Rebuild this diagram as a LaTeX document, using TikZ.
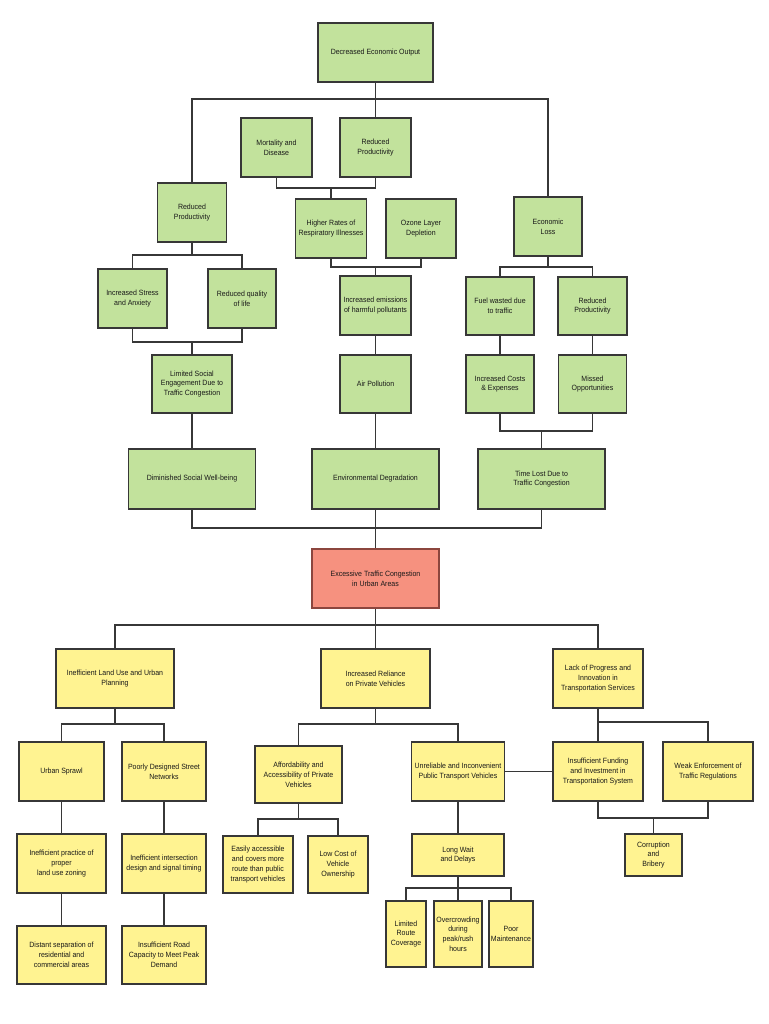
\documentclass[tikz,border=0pt]{standalone}
\usepackage{fontspec}
\setmainfont{Liberation Sans}[FakeStretch=0.92]
\definecolor{gfill}{RGB}{194,226,156}
\definecolor{yfill}{RGB}{255,243,145}
\definecolor{rfill}{RGB}{246,145,127}
\definecolor{edge}{RGB}{55,55,55}
\definecolor{redge}{RGB}{140,70,62}
\definecolor{txt}{RGB}{25,25,25}
\begin{document}
\begin{tikzpicture}[x=1pt,y=-1pt,
  base/.style={draw=edge, line width=1.7pt, align=center, inner sep=1pt,
    text=txt, font=\fontsize{7.6}{9.8}\selectfont},
  gbox/.style={base, fill=gfill},
  ybox/.style={base, fill=yfill},
  rbox/.style={base, fill=rfill, draw=redge},
  conn/.style={draw=edge, line width=1.9pt}]
\useasboundingbox (0,0) rectangle (768,1024);
\fill[white] (0,0) rectangle (768,1024);

% ---------- green (effects) ----------
\node[gbox, minimum width=115pt, minimum height=59pt] (deo) at (375.5,52.5) {Decreased Economic Output};
\node[gbox, minimum width=71pt, minimum height=59pt] (mort) at (276.5,147.5) {Mortality and\\Disease};
\node[gbox, minimum width=71pt, minimum height=59pt] (rpm) at (375.5,147.5) {Reduced\\Productivity};
\node[gbox, minimum width=69pt, minimum height=59pt] (rpl) at (192,212.5) {Reduced\\Productivity};
\node[gbox, minimum width=71pt, minimum height=59pt] (hrr) at (331,228.5) {Higher Rates of\\Respiratory Illnesses};
\node[gbox, minimum width=70pt, minimum height=59pt] (ozone) at (421,228.5) {Ozone Layer\\Depletion};
\node[gbox, minimum width=68pt, minimum height=59pt] (econ) at (548,226.5) {Economic\\Loss};
\node[gbox, minimum width=69pt, minimum height=59pt] (stress) at (132.5,298.5) {Increased Stress\\and Anxiety};
\node[gbox, minimum width=68pt, minimum height=59pt] (qual) at (242,298.5) {Reduced quality\\of life};
\node[gbox, minimum width=71pt, minimum height=59pt] (emis) at (375.5,305.5) {Increased emissions\\of harmful pollutants};
\node[gbox, minimum width=68pt, minimum height=58pt] (fuel) at (500,306) {Fuel wasted due\\to traffic};
\node[gbox, minimum width=69pt, minimum height=58pt] (rpr) at (592.5,306) {Reduced\\Productivity};
\node[gbox, minimum width=80pt, minimum height=58pt] (lse) at (192,384) {Limited Social\\Engagement Due to\\Traffic Congestion};
\node[gbox, minimum width=71pt, minimum height=58pt] (air) at (375.5,384) {Air Pollution};
\node[gbox, minimum width=68pt, minimum height=58pt] (costs) at (500,384) {Increased Costs\\\& Expenses};
\node[gbox, minimum width=68pt, minimum height=58pt] (missed) at (592.5,384) {Missed\\Opportunities};
\node[gbox, minimum width=127pt, minimum height=60pt] (dim) at (192,479) {Diminished Social Well-being};
\node[gbox, minimum width=127pt, minimum height=60pt] (env) at (375.5,479) {Environmental Degradation};
\node[gbox, minimum width=127pt, minimum height=60pt] (time) at (541.5,479) {Time Lost Due to\\Traffic Congestion};

% ---------- central problem ----------
\node[rbox, minimum width=127pt, minimum height=59pt] (excess) at (375.5,578.5) {Excessive Traffic Congestion\\in Urban Areas};

% ---------- yellow (causes) ----------
\node[ybox, minimum width=118pt, minimum height=59pt] (land) at (115,678.5) {Inefficient Land Use and Urban\\Planning};
\node[ybox, minimum width=109pt, minimum height=59pt] (reli) at (375.5,678.5) {Increased Reliance\\on Private Vehicles};
\node[ybox, minimum width=90pt, minimum height=59pt] (lack) at (598,678.5) {Lack of Progress and\\Innovation in\\Transportation Services};
\node[ybox, minimum width=85pt, minimum height=59pt] (sprawl) at (61.5,771.5) {Urban Sprawl};
\node[ybox, minimum width=84pt, minimum height=59pt] (poorly) at (164,771.5) {Poorly Designed Street\\Networks};
\node[ybox, minimum width=87pt, minimum height=57pt] (afford) at (298.5,774.5) {Affordability and\\Accessibility of Private\\Vehicles};
\node[ybox, minimum width=93pt, minimum height=59pt] (unrel) at (458,771.5) {Unreliable and Inconvenient\\Public Transport Vehicles};
\node[ybox, minimum width=90pt, minimum height=59pt] (fund) at (598,771.5) {Insufficient Funding\\and Investment in\\Transportation System};
\node[ybox, minimum width=90pt, minimum height=59pt] (weak) at (708,771.5) {Weak Enforcement of\\Traffic Regulations};
\node[ybox, minimum width=89pt, minimum height=59pt] (ineffpr) at (61.5,863.5) {Inefficient practice of\\proper\\land use zoning};
\node[ybox, minimum width=84pt, minimum height=59pt] (ineffint) at (164,863.5) {Inefficient intersection\\design and signal timing};
\node[ybox, minimum width=70pt, minimum height=57pt] (easy) at (258,864.5) {Easily accessible\\and covers more\\route than public\\transport vehicles};
\node[ybox, minimum width=60pt, minimum height=57pt] (lowcost) at (338,864.5) {Low Cost of\\Vehicle\\Ownership};
\node[ybox, minimum width=92pt, minimum height=42pt] (longwait) at (458,855) {Long Wait\\and Delays};
\node[ybox, minimum width=57pt, minimum height=42pt] (corr) at (653.5,855) {Corruption\\and\\Bribery};
\node[ybox, minimum width=40pt, minimum height=66pt] (limroute) at (406,934) {Limited\\Route\\Coverage};
\node[ybox, minimum width=48pt, minimum height=66pt] (overcr) at (458,934) {Overcrowding\\during\\peak/rush\\hours};
\node[ybox, minimum width=44pt, minimum height=66pt] (poorm) at (511,934) {Poor\\Maintenance};
\node[ybox, minimum width=89pt, minimum height=58pt] (distant) at (61.5,955) {Distant separation of\\residential and\\commercial areas};
\node[ybox, minimum width=84pt, minimum height=58pt] (insroad) at (164,955) {Insufficient Road\\Capacity to Meet Peak\\Demand};

% ---------- junctions ----------
\coordinate (j1) at (375.5,99);
\coordinate (j2) at (331,188);
\coordinate (j3) at (375.5,267);
\coordinate (j4) at (192,255);
\coordinate (j5) at (192,342);
\coordinate (j6) at (548,267);
\coordinate (j7) at (541.5,431);
\coordinate (j8) at (375.5,528);
\coordinate (j9) at (375.5,625);
\coordinate (j10) at (115,724);
\coordinate (j11) at (375.5,724);
\coordinate (j12) at (298.5,819);
\coordinate (j13) at (458,888);
\coordinate (j14) at (598,722);
\coordinate (j15) at (653.5,818);

% ---------- connectors (upper tree) ----------
\draw[conn] (deo.south) -- (rpm.north);
\draw[conn] (rpl.north) |- (j1) -| (econ.north);
\draw[conn] (mort.south) |- (j2) -| (rpm.south);
\draw[conn] (j2) -- (hrr.north);
\draw[conn] (hrr.south) |- (j3) -| (ozone.south);
\draw[conn] (j3) -- (emis.north);
\draw[conn] (rpl.south) -- (j4);
\draw[conn] (stress.north) |- (j4) -| (qual.north);
\draw[conn] (stress.south) |- (j5) -| (qual.south);
\draw[conn] (j5) -- (lse.north);
\draw[conn] (lse.south) -- (dim.north);
\draw[conn] (emis.south) -- (air.north);
\draw[conn] (air.south) -- (env.north);
\draw[conn] (econ.south) -- (j6);
\draw[conn] (fuel.north) |- (j6) -| (rpr.north);
\draw[conn] (fuel.south) -- (costs.north);
\draw[conn] (rpr.south) -- (missed.north);
\draw[conn] (costs.south) |- (j7) -| (missed.south);
\draw[conn] (j7) -- (time.north);
\draw[conn] (dim.south) |- (j8) -| (time.south);
\draw[conn] (env.south) -- (excess.north);

% ---------- connectors (lower tree) ----------
\draw[conn] (excess.south) -- (reli.north);
\draw[conn] (land.north) |- (j9) -| (lack.north);
\draw[conn] (land.south) -- (j10);
\draw[conn] (sprawl.north) |- (j10) -| (poorly.north);
\draw[conn] (sprawl.south) -- (ineffpr.north);
\draw[conn] (ineffpr.south) -- (distant.north);
\draw[conn] (poorly.south) -- (ineffint.north);
\draw[conn] (ineffint.south) -- (insroad.north);
\draw[conn] (reli.south) -- (j11);
\draw[conn] (afford.north) |- (j11) -| (unrel.north);
\draw[conn] (afford.south) -- (j12);
\draw[conn] (easy.north) |- (j12) -| (lowcost.north);
\draw[conn] (unrel.south) -- (longwait.north);
\draw[conn] (longwait.south) -- (j13) -- (overcr.north);
\draw[conn] (limroute.north) |- (j13) -| (poorm.north);
\draw[conn] (unrel.east) -- (fund.west);
\draw[conn] (lack.south) -- (fund.north);
\draw[conn] (j14) -| (weak.north);
\draw[conn] (fund.south) |- (j15) -| (weak.south);
\draw[conn] (j15) -- (corr.north);
\end{tikzpicture}
\end{document}
